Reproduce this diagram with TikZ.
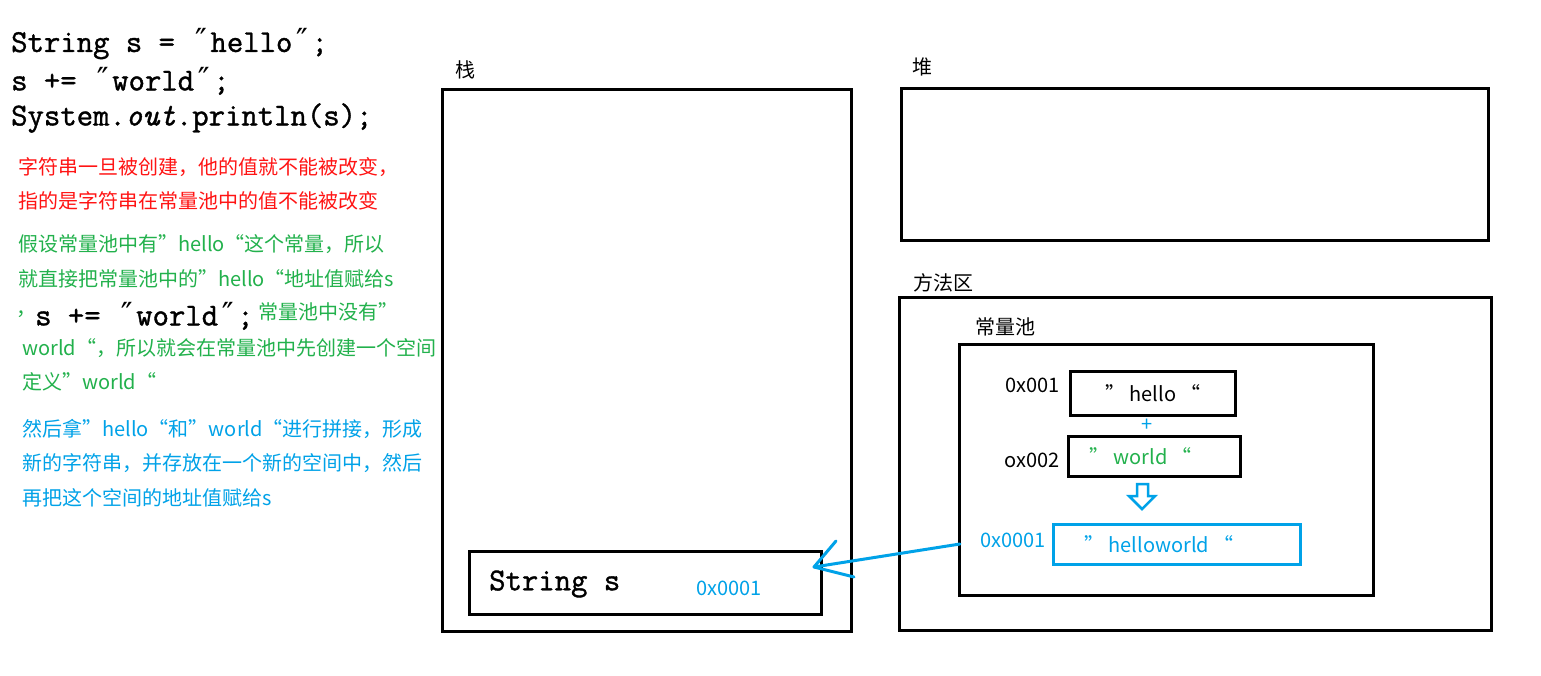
\documentclass[tikz,border=0pt]{standalone}
\usepackage{fontspec}
\setmainfont{Noto Sans CJK SC}
\newfontfamily\codefont{Latin Modern Mono}[FakeBold=1.2]
\newfontfamily\qfont{DejaVu Sans Mono}
\definecolor{pgreen}{RGB}{34,177,76}
\definecolor{pblue}{RGB}{0,162,232}
\definecolor{pred}{RGB}{255,20,20}
\begin{document}
\begin{tikzpicture}[x=1pt,y=-1pt,
  txt/.style={anchor=west, inner sep=0pt, font=\fontsize{20}{24}\selectfont},
  lbl/.style={inner sep=0pt, font=\fontsize{20}{24}\selectfont},
  code/.style={anchor=west, inner sep=0pt, font=\codefont\fontsize{31.8}{36}\selectfont},
  box/.style={draw, line width=3pt, anchor=north west, inner sep=0pt},
  arr/.style={draw=pblue, line width=3pt, line cap=round}]
\fill[white] (0,0) rectangle (1541,676);
\useasboundingbox (0,0) rectangle (1541,676);
% code
\node[code] (c1) at (11,44) {String s = {\qfont ″}hello{\qfont ″};};
\node[code] (c2) at (11,81) {s += {\qfont ″}world{\qfont ″};};
\node[code] (c3) at (11,118) {System.\textit{out}.println(s);};
% red
\node[txt, pred] (r1) at (18,167) {字符串一旦被创建，他的值就不能被改变，};
\node[txt, pred] (r2) at (18,201) {指的是字符串在常量池中的值不能被改变};
% green
\node[txt, pgreen] (g3a) at (16,314) {，};
\node[txt, pgreen] (g1) at (18,244) {假设常量池中有”hello“这个常量，所以};
\node[txt, pgreen] (g2) at (18,279) {就直接把常量池中的”hello“地址值赋给s};
\node[code] (g3b) at (35,316) {s += {\qfont ″}world{\qfont ″};};
\node[txt, pgreen] (g3c) at (258,312) {常量池中没有”};
\node[txt, pgreen] (g4) at (22,348) {world“，所以就会在常量池中先创建一个空间};
\node[txt, pgreen] (g5) at (22,382) {定义”world“};
% blue
\node[txt, pblue] (b1) at (22,429) {然后拿”hello“和”world“进行拼接，形成};
\node[txt, pblue] (b2) at (22,463) {新的字符串，并存放在一个新的空间中，然后};
\node[txt, pblue] (b3) at (22,498) {再把这个空间的地址值赋给s};
% areas
\node[lbl, anchor=west] (lstack) at (455,70) {栈};
\node[box, minimum width=409pt, minimum height=542pt] (stack) at (441,88) {};
\node[lbl, anchor=west] (lheap) at (912,67) {堆};
\node[box, minimum width=587pt, minimum height=152pt] (heap) at (900,87) {};
\node[lbl, anchor=west] (lmethod) at (913,283) {方法区};
\node[box, minimum width=592pt, minimum height=333pt] (method) at (898,296) {};
\node[lbl, anchor=west] (lpool) at (975,327) {常量池};
\node[box, minimum width=414pt, minimum height=251pt] (pool) at (958,343) {};
% pool entries
\node[lbl, anchor=east] (a1) at (1060,385) {0x001};
\node[box, minimum width=165pt, minimum height=44pt] (hello) at (1069,370) {};
\node[lbl] at (hello.center) {” hello “};
\node[inner sep=0pt, pblue, font=\fontsize{20}{22}\selectfont] (plus) at (1147,425) {+};
\node[lbl, anchor=east] (a2) at (1060,460) {ox002};
\node[box, minimum width=172pt, minimum height=40pt] (world) at (1067,435) {};
\node[lbl, pgreen] at ([xshift=-14pt]world.center) {” world “};
\draw[pblue, line width=2.5pt, line join=miter]
  (1137,484) -- (1148,484) -- (1148,496) -- (1155,496) -- (1142,509) -- (1129,496) -- (1137,496) -- cycle;
\node[lbl, pblue, anchor=east] (a3) at (1046,540) {0x0001};
\node[box, draw=pblue, minimum width=247pt, minimum height=40pt] (hw) at (1052,523) {};
\node[lbl, pblue] at ([xshift=-18pt]hw.center) {” helloworld “};
% stack entry
\node[box, minimum width=352pt, minimum height=63pt] (svar) at (468,550) {};
\node[code] (sname) at (489,584) {String s};
\node[lbl, pblue, anchor=west] (sval) at (696,588) {0x0001};
% reference arrow
\coordinate (src) at (960,544);
\coordinate (tip) at (814,567);
\coordinate (barb1) at (836,541);
\coordinate (barb2) at (854,577);
\draw[arr] (src) -- (tip);
\draw[arr] (tip) -- (barb1);
\draw[arr] (tip) -- (barb2);
\end{tikzpicture}
\end{document}
